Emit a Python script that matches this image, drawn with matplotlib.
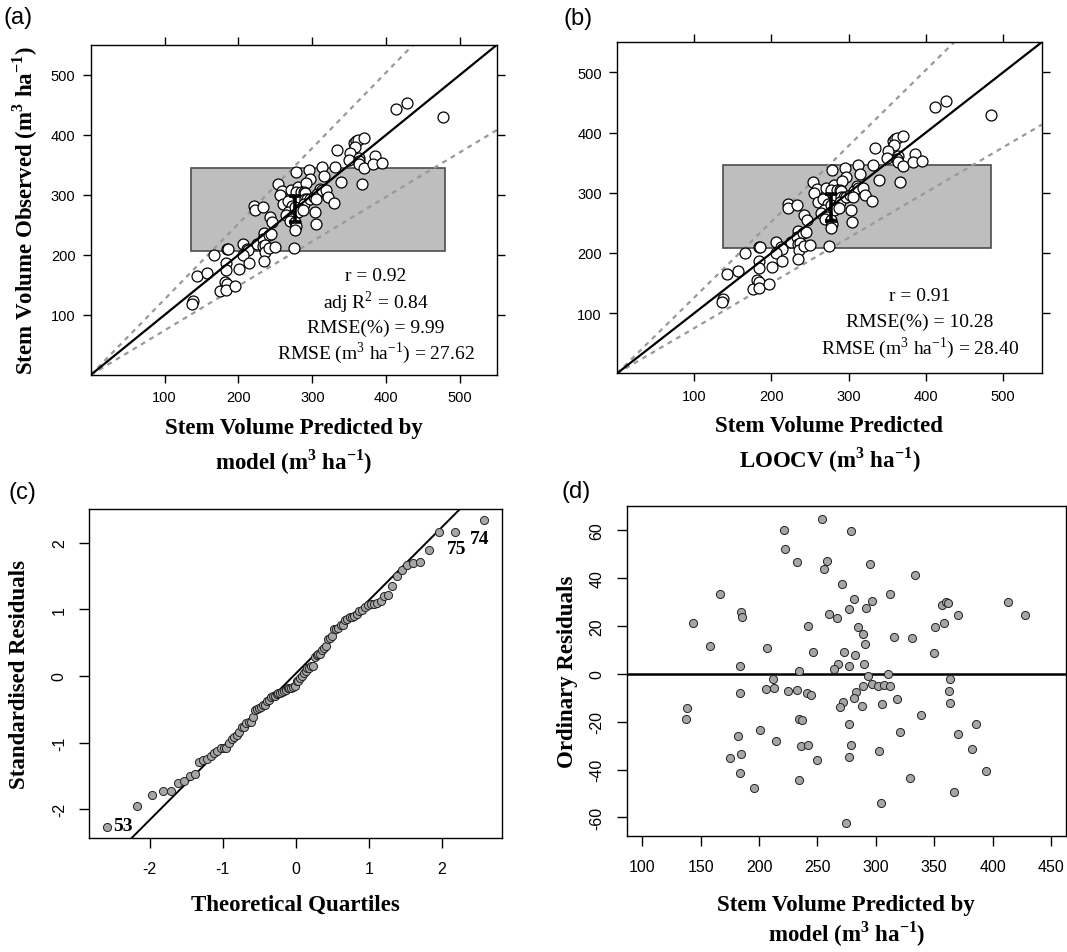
import numpy as np
import matplotlib
matplotlib.use("Agg")
import matplotlib.pyplot as plt
from matplotlib.patches import Rectangle
from statistics import NormalDist

plt.rcParams["font.family"] = "Liberation Sans"
plt.rcParams["axes.unicode_minus"] = False
plt.rcParams["mathtext.fontset"] = "custom"
plt.rcParams["mathtext.rm"] = "Liberation Serif"
plt.rcParams["mathtext.bf"] = "Liberation Serif:bold"
SERIF = "Liberation Serif"

# ---- data ----
# predicted stem volume (model) and ordinary residuals, panel (d)
# (last point, x=477, lies outside the x range of panel d)
pred_model = np.array([
    253.5, 221.5, 278.5, 222.6, 232.9, 258.6, 255.7, 295.4, 333.3, 270.8,
    166.5, 312.5, 281.1, 296.5, 291.7, 277.4, 413.2, 357.0, 359.8, 362.1,
    428.0, 370.4, 184.4, 185.6, 260.3, 266.9, 143.6, 358.1, 242.3, 284.8,
    350.4, 288.8, 315.3, 331.3, 290.5, 157.9, 206.4, 246.0, 272.6, 349.6,
    282.3, 267.7, 289.7, 183.6, 276.6, 264.3, 234.6, 310.5, 293.4, 211.8,
    363.5, 213.2, 206.1, 225.2, 232.9, 289.4, 297.1, 301.9, 306.8, 312.5,
    362.7, 283.1, 241.2, 244.3, 183.6, 281.1, 318.2, 272.0, 269.7, 288.0,
    305.1, 363.8, 137.9, 137.1, 233.8, 236.6, 339.0, 276.6, 385.5, 200.7,
    321.0, 370.1, 181.6, 214.1, 235.5, 241.5, 278.5, 382.7, 303.1, 175.0,
    249.7, 276.6, 184.4, 183.6, 394.0, 234.6, 329.6, 195.8, 366.7, 304.8,
    274.6, 477.0])
resid_model = np.array([
    64.9, 60.0, 59.6, 52.2, 46.9, 47.2, 44.0, 46.0, 41.4, 37.4,
    33.2, 33.6, 31.3, 30.4, 27.5, 27.1, 30.0, 28.7, 30.0, 29.6,
    24.7, 24.7, 25.8, 23.7, 25.0, 23.4, 21.3, 21.3, 20.1, 19.7,
    19.7, 16.5, 15.6, 15.2, 12.3, 11.6, 11.0, 9.3, 9.1, 8.7,
    7.8, 4.0, 4.0, 3.2, 3.2, 2.1, 1.1, 0.0, -0.8, -2.1,
    -2.1, -5.9, -6.3, -7.1, -6.7, -5.0, -4.2, -4.9, -4.6, -5.0,
    -7.1, -7.5, -8.1, -8.7, -8.2, -9.9, -10.3, -11.9, -13.7, -13.3,
    -12.8, -12.0, -14.1, -19.0, -19.0, -19.4, -17.0, -21.1, -21.1, -23.4,
    -24.3, -25.3, -26.0, -28.0, -30.1, -29.7, -29.7, -31.3, -32.1, -35.0,
    -35.9, -34.6, -33.3, -41.6, -40.7, -44.4, -43.7, -47.7, -49.4, -53.9,
    -62.5, -47.6])
# LOOCV predictions, panel (b)
pred_loocv = np.array([
    253.5, 221.0, 278.5, 222.0, 232.5, 258.6, 255.7, 295.4, 333.5, 270.8,
    165.5, 312.5, 281.1, 296.5, 291.7, 277.4, 412.0, 357.0, 359.8, 362.1,
    426.0, 370.4, 183.8, 185.0, 260.3, 266.9, 142.5, 358.1, 242.0, 284.8,
    350.4, 288.8, 315.3, 331.3, 290.5, 157.0, 206.0, 246.0, 272.6, 349.6,
    282.3, 267.7, 289.7, 183.6, 276.6, 264.3, 234.6, 310.5, 293.4, 211.8,
    363.5, 213.2, 206.1, 225.2, 232.9, 289.4, 297.1, 301.9, 306.8, 312.5,
    362.7, 283.1, 241.2, 244.3, 183.6, 281.1, 318.2, 272.0, 269.7, 288.0,
    305.1, 363.8, 137.0, 136.3, 233.8, 236.6, 339.0, 276.6, 386.0, 200.7,
    321.0, 370.5, 181.6, 214.1, 235.5, 241.5, 278.5, 383.5, 303.1, 175.5,
    249.7, 276.6, 184.4, 183.6, 395.0, 234.6, 329.6, 196.5, 367.0, 304.8,
    274.6, 484.0])
observed = pred_model + resid_model

# residual standard error used to standardise residuals (panel c)
resid_se = 27.62

# grey box: range of predictions x (mean +/- sd of observed); "I" = mean bar
box_a = (136, 479, 207, 345)
box_b = (137.6, 484.4, 208, 346.7)
mean_bar_a = (276, 254, 298.5)
mean_bar_b = (276.7, 252.4, 298.5)
band_a = (1.26, 0.742)
band_b = (1.26, 0.751)

stats_a = ["r = 0.92", "adj R$^{\\mathrm{2}}$ = 0.84", "RMSE(%) = 9.99",
           "RMSE (m$^{\\mathrm{3}}$ ha$^{\\mathrm{-1}}$) = 27.62"]
stats_b = ["r = 0.91", "RMSE(%) = 10.28",
           "RMSE (m$^{\\mathrm{3}}$ ha$^{\\mathrm{-1}}$) = 28.40"]

qq_intercept, qq_slope = 0.035, 1.10
qq_labels = [("53", -2.36, -2.24), ("75", 2.20, 1.92), ("74", 2.52, 2.07)]

unit_bf = "(m$^{\\mathbf{3}}$ ha$^{\\mathbf{-1}}$)"


def obs_pred_panel(ax, x, y, box, bar, band, stats, text_x, text_y):
    ax.add_patch(Rectangle((box[0], box[2]), box[1] - box[0], box[3] - box[2],
                           facecolor="#bebebe", edgecolor="#4d4d4d", lw=1.2, zorder=1))
    for s in band:
        ax.axline((0, 0), slope=s, color="#999999", lw=1.6, dashes=(2.2, 2.2), zorder=2)
    ax.scatter(x, y, s=62, facecolor="white", edgecolor="black", lw=0.9, zorder=3)
    ax.axline((0, 0), slope=1, color="black", lw=1.6, zorder=4)
    ax.errorbar(bar[0], (bar[1] + bar[2]) / 2, yerr=(bar[2] - bar[1]) / 2, fmt="none",
                ecolor="black", elinewidth=2.6, capsize=4.5, capthick=2.6, zorder=5)
    for i, s in enumerate(stats):
        ax.text(text_x, text_y - i * 42.5, s, family=SERIF, fontsize=14,
                ha="center", va="center", zorder=6)
    ax.set_xlim(0, 550)
    ax.set_ylim(0, 550)
    ticks = [100, 200, 300, 400, 500]
    ax.set_xticks(ticks)
    ax.set_yticks(ticks)
    ax.tick_params(top=True, right=True, direction="out", length=6, width=1,
                   labelsize=10.5, pad=5)


fig = plt.figure(figsize=(10.67, 9.53), dpi=100)

# (a)
ax_a = fig.add_axes([0.0850, 0.6055, 0.3808, 0.3465])
obs_pred_panel(ax_a, pred_model, observed, box_a, mean_bar_a, band_a, stats_a, 386, 165)
ax_a.set_xlabel("Stem Volume Predicted by\nmodel " + unit_bf, family=SERIF,
                fontweight="bold", fontsize=16.5, linespacing=1.38, labelpad=9)
ax_a.set_ylabel("Stem Volume Observed " + unit_bf, family=SERIF,
                fontweight="bold", fontsize=16.5, labelpad=8)

# (b)
ax_b = fig.add_axes([0.5783, 0.6072, 0.3980, 0.3474])
obs_pred_panel(ax_b, pred_loocv, observed, box_b, mean_bar_b, band_b, stats_b, 392, 129)
ax_b.set_xlabel("Stem Volume Predicted\nLOOCV " + unit_bf, family=SERIF,
                fontweight="bold", fontsize=16.5, linespacing=1.38, labelpad=9)

# (c) normal QQ plot of standardised residuals
std_resid = np.sort(resid_model / resid_se)
n = len(std_resid)
theo_q = np.array([NormalDist().inv_cdf((i - 0.5) / n) for i in range(1, n + 1)])

ax_c = fig.add_axes([0.0834, 0.1193, 0.3874, 0.3455])
ax_c.scatter(theo_q, std_resid, s=34, facecolor="#a6a6a6", edgecolor="#222222", lw=0.7, zorder=3)
ax_c.axline((0, qq_intercept), slope=qq_slope, color="black", lw=1.4, zorder=2)
for lab, lx, ly in qq_labels:
    ax_c.text(lx, ly, lab, family=SERIF, fontweight="bold", fontsize=14,
              ha="center", va="center")
ax_c.set_xlim(-2.83, 2.83)
ax_c.set_ylim(-2.44, 2.51)
ax_c.set_xticks([-2, -1, 0, 1, 2])
ax_c.set_yticks([-2, -1, 0, 1, 2])
ax_c.tick_params(direction="out", length=7, width=1, labelsize=11.5, pad=9)
ax_c.tick_params(axis="y", labelrotation=90)
for t in ax_c.get_yticklabels():
    t.set_va("center")
ax_c.set_xlabel("Theoretical Quartiles", family=SERIF, fontweight="bold",
                fontsize=16.5, labelpad=13)
ax_c.set_ylabel("Standardised Residuals", family=SERIF, fontweight="bold",
                fontsize=16.5, labelpad=16)

# (d) residuals vs predicted
ax_d = fig.add_axes([0.5873, 0.1214, 0.4117, 0.3469])
ax_d.scatter(pred_model, resid_model, s=34, facecolor="#a6a6a6", edgecolor="#222222",
             lw=0.7, zorder=3)
ax_d.axhline(0, color="black", lw=1.8, zorder=2)
ax_d.set_xlim(86.6, 462.8)
ax_d.set_ylim(-67.9, 70.3)
ax_d.set_xticks(np.arange(100, 451, 50))
ax_d.set_yticks(np.arange(-60, 61, 20))
ax_d.tick_params(direction="out", length=7, width=1, labelsize=11.5, pad=9)
ax_d.tick_params(axis="y", labelrotation=90)
for t in ax_d.get_yticklabels():
    t.set_va("center")
ax_d.set_xlabel("Stem Volume Predicted by\nmodel " + unit_bf, family=SERIF,
                fontweight="bold", fontsize=16.5, linespacing=1.15, labelpad=15)
ax_d.set_ylabel("Ordinary Residuals", family=SERIF, fontweight="bold",
                fontsize=16.5, labelpad=8)

for ax in (ax_a, ax_b, ax_c, ax_d):
    for sp in ax.spines.values():
        sp.set_linewidth(1.0)

# panel letters
fig.text(0.003, 0.9815, "(a)", fontsize=17, ha="left", va="center")
fig.text(0.5277, 0.980, "(b)", fontsize=17, ha="left", va="center")
fig.text(0.0078, 0.4832, "(c)", fontsize=17, ha="left", va="center")
fig.text(0.5264, 0.4841, "(d)", fontsize=17, ha="left", va="center")

fig.savefig("out.png", dpi=100)
